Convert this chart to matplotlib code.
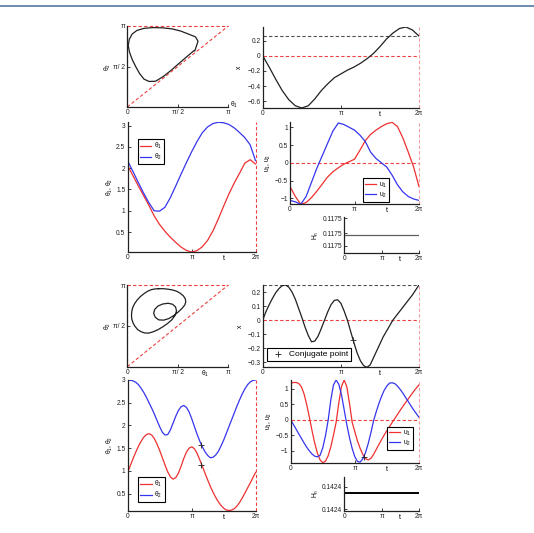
"""Two blocks of panels: phase portrait, x(t), theta(t), u(t) and the constant Hamiltonian."""

import matplotlib

matplotlib.use("Agg")

import matplotlib.pyplot as plt
import numpy as np
from matplotlib.lines import Line2D

PI = np.pi

# ---- upper block, read every 2*pi/24 ----
T_A = np.linspace(0, 2 * PI, 25)
THETA1_A = [2.07, 1.83, 1.59, 1.36, 1.13, 0.88, 0.68, 0.52, 0.38, 0.26, 0.15, 0.07, 0.03,
            0.06, 0.15, 0.30, 0.52, 0.80, 1.10, 1.39, 1.65, 1.88, 2.12, 2.20, 2.10]
THETA2_A = [2.18, 1.93, 1.67, 1.42, 1.19, 1.00, 0.99, 1.08, 1.30, 1.57, 1.85, 2.12, 2.38,
            2.62, 2.83, 2.97, 3.05, 3.08, 3.07, 3.03, 2.95, 2.84, 2.72, 2.55, 2.18]
X_A = [0.0, -0.15, -0.31, -0.46, -0.58, -0.66, -0.69, -0.66, -0.57, -0.46, -0.37, -0.29, -0.24,
       -0.19, -0.15, -0.10, -0.04, 0.03, 0.12, 0.22, 0.30, 0.36, 0.38, 0.34, 0.26]
U1_A = [-0.67, -0.95, -1.17, -1.12, -0.98, -0.80, -0.60, -0.40, -0.25, -0.14, -0.04, 0.03, 0.10,
        0.35, 0.62, 0.80, 0.92, 1.02, 1.10, 1.14, 1.02, 0.70, 0.30, -0.12, -0.67]
U2_A = [-1.06, -1.10, -1.17, -0.95, -0.55, -0.15, 0.20, 0.55, 0.90, 1.12, 1.08, 1.00, 0.92,
        0.78, 0.60, 0.30, 0.12, 0.00, -0.12, -0.35, -0.62, -0.82, -0.95, -1.02, -1.06]
H_A = 0.1175

# ---- lower block, read every 2*pi/48 ----
T_B = np.linspace(0, 2 * PI, 49)
THETA1_B = [0.97, 1.12, 1.27, 1.41, 1.54, 1.65, 1.74, 1.80, 1.82, 1.79, 1.71, 1.59, 1.45,
            1.29, 1.13, 0.98, 0.87, 0.82, 0.85, 0.95, 1.10, 1.27, 1.41, 1.50, 1.53, 1.49,
            1.39, 1.25, 1.10, 0.95, 0.80, 0.66, 0.53, 0.42, 0.32, 0.24, 0.18, 0.14, 0.13,
            0.14, 0.17, 0.23, 0.31, 0.41, 0.52, 0.63, 0.74, 0.86, 0.97]
THETA2_B = [3.00, 3.00, 2.98, 2.95, 2.90, 2.82, 2.73, 2.62, 2.50, 2.38, 2.25, 2.11, 1.97,
            1.85, 1.79, 1.80, 1.90, 2.05, 2.20, 2.33, 2.41, 2.44, 2.40, 2.30, 2.15, 1.98,
            1.81, 1.66, 1.53, 1.42, 1.34, 1.29, 1.30, 1.35, 1.43, 1.55, 1.68, 1.83, 1.98,
            2.13, 2.28, 2.43, 2.57, 2.70, 2.81, 2.90, 2.96, 2.99, 3.00]
X_B = [0.00, 0.06, 0.11, 0.155, 0.195, 0.225, 0.245, 0.25, 0.235, 0.20, 0.15, 0.085, 0.02,
       -0.05, -0.11, -0.155, -0.15, -0.115, -0.06, 0.00, 0.06, 0.11, 0.14, 0.145, 0.12, 0.065,
       0.00, -0.08, -0.16, -0.235, -0.29, -0.325, -0.337, -0.32, -0.27, -0.22, -0.17, -0.12,
       -0.08, -0.04, 0.00, 0.03, 0.06, 0.09, 0.12, 0.15, 0.18, 0.215, 0.25]
U1_B = [1.18, 1.21, 1.21, 1.18, 1.07, 0.84, 0.49, 0.08, -0.36, -0.76, -1.08, -1.30, -1.39,
        -1.34, -1.17, -0.88, -0.50, -0.08, 0.55, 1.08, 1.29, 1.07, 0.53, -0.08, -0.39, -0.69,
        -0.93, -1.13, -1.26, -1.30, -1.25, -1.12, -0.96, -0.80, -0.64, -0.49, -0.35, -0.22,
        -0.08, 0.05, 0.18, 0.31, 0.44, 0.56, 0.68, 0.80, 0.92, 1.03, 1.13]
U2_B = [0.00, -0.15, -0.30, -0.45, -0.60, -0.75, -0.89, -1.01, -1.11, -1.18, -1.20, -1.15,
        -0.91, -0.52, -0.02, 0.64, 1.13, 1.29, 1.15, 0.81, 0.33, -0.16, -0.58, -0.93, -1.20,
        -1.35, -1.37, -1.26, -1.06, -0.77, -0.42, -0.03, 0.26, 0.53, 0.76, 0.96, 1.10, 1.19,
        1.20, 1.17, 1.09, 0.98, 0.86, 0.72, 0.59, 0.45, 0.32, 0.20, 0.08]
H_B = 0.1424

# conjugate point (lower block)
CONJ_T = 3.62
CONJ_X = -0.14
CONJ_THETA = [1.14, 1.57]
CONJ_U_T = 3.60
CONJ_U = -1.20

FIG_W, FIG_H = 534, 533
RED = "#ee3030"
BLUE = "#3535ee"
CURVE = "#202020"
DASH_RED = "#ee4040"
PINK = "#f4a0a0"
GREY = "#505050"
FS = 4.8
DASH = (0, (3, 2))

plt.rcParams.update({
    "font.family": ["Liberation Sans", "DejaVu Sans"],
    "font.size": FS,
    "mathtext.default": "regular",
})


def rect(x0, y0, x1, y1):
    """Pixel box (top-left origin) -> figure fraction rect."""
    return [x0 / FIG_W, 1 - y1 / FIG_H, (x1 - x0) / FIG_W, (y1 - y0) / FIG_H]


def fmt(v):
    return f"{v:g}".replace("-", "\u2212")


def style(ax):
    for s in ("top", "right"):
        ax.spines[s].set_visible(False)
    for s in ("left", "bottom"):
        ax.spines[s].set_linewidth(0.9)
        ax.spines[s].set_color("#202020")
    ax.tick_params(direction="in", length=2.2, width=0.6, labelsize=FS, pad=1.5,
                   colors="#202020")


def set_yticks(ax, ticks):
    ax.set_yticks(ticks, labels=[fmt(v) for v in ticks])


def time_axis(ax):
    ax.set_xlim(0, 2 * PI)
    ax.set_xticks([0, PI, 2 * PI], labels=["0", "\u03c0", "2\u03c0"])
    ax.annotate("t", xy=(1.5 * PI, 0), xycoords=("data", "axes fraction"),
                xytext=(0, -2.2), textcoords="offset points", ha="center", va="top",
                fontsize=FS + 0.4)


def legend(ax, loc, anchor, fontsize=FS, handlelength=1.7):
    leg = ax.legend(loc=loc, bbox_to_anchor=anchor, fontsize=fontsize, frameon=True,
                    fancybox=False, edgecolor="black", framealpha=1, borderpad=0.3,
                    handlelength=handlelength, handletextpad=0.4, labelspacing=0.15,
                    borderaxespad=0)
    leg.get_frame().set_linewidth(0.8)
    return leg


def plot_phase(ax, th1, th2, label_inside):
    ax.plot(th1, th2, color=CURVE, lw=0.9)
    kw = dict(color=DASH_RED, lw=0.8, ls=DASH, clip_on=False)
    ax.plot([0, PI], [0, PI], **kw)
    ax.plot([0, PI], [PI, PI], **kw)
    ax.plot([0, 0], [0, PI], **kw)
    ax.set_xlim(0, PI)
    ax.set_ylim(0, PI)
    ax.set_xticks([0, PI / 2, PI], labels=["0", "\u03c0/ 2", "\u03c0"])
    ax.set_yticks([PI / 2, PI], labels=["\u03c0/ 2", "\u03c0"])
    ax.set_ylabel("\u03b8$_2$", labelpad=0.5)
    style(ax)
    if label_inside:
        ax.text(1.06, 0.03, "\u03b8$_1$", transform=ax.transAxes, ha="center", va="center")
    else:
        ax.annotate("\u03b8$_1$", xy=(0.77, 0), xycoords="axes fraction", xytext=(0, -1.5),
                    textcoords="offset points", ha="center", va="top")


def plot_x(ax, t, x, yticks):
    ax.axhline(x[-1], color=GREY, lw=0.8, ls=DASH)
    ax.axhline(0, color=DASH_RED, lw=0.8, ls=DASH)
    ax.axvline(2 * PI, color=PINK, lw=0.8, ls=DASH, clip_on=False)
    ax.plot(t, x, color=CURVE, lw=0.9)
    ax.set_ylim(min(x), max(x))
    time_axis(ax)
    set_yticks(ax, yticks)
    ax.set_ylabel("x", labelpad=3)
    style(ax)


def plot_theta(ax, t, th1, th2):
    ax.plot(t, th1, color=RED, lw=0.9, label="\u03b8$_1$")
    ax.plot(t, th2, color=BLUE, lw=0.9, label="\u03b8$_2$")
    ax.axvline(2 * PI, color=DASH_RED, lw=0.8, ls=DASH, clip_on=False)
    ax.set_ylim(min(min(th1), min(th2)), max(max(th1), max(th2)))
    time_axis(ax)
    set_yticks(ax, [0.5, 1, 1.5, 2, 2.5, 3])
    ax.set_ylabel("\u03b8$_1$, \u03b8$_2$", labelpad=1)
    style(ax)


def plot_u(ax, t, u1, u2):
    ax.axhline(0, color=DASH_RED, lw=0.8, ls=DASH)
    ax.axvline(2 * PI, color=PINK, lw=0.8, ls=DASH, clip_on=False)
    ax.plot(t, u1, color=RED, lw=0.9, label="u$_1$")
    ax.plot(t, u2, color=BLUE, lw=0.9, label="u$_2$")
    ax.set_ylim(min(min(u1), min(u2)), max(max(u1), max(u2)))
    time_axis(ax)
    set_yticks(ax, [-1, -0.5, 0, 0.5, 1])
    ax.set_ylabel("u$_1$, u$_2$", labelpad=1)
    style(ax)


def plot_h(ax, h, color, lw, lo, hi, tick_fracs):
    d = 1e-5
    ax.plot([0, 2 * PI], [h, h], color=color, lw=lw)
    ax.set_ylim(h - lo * d, h + hi * d)
    span = (lo + hi) * d
    ticks = [h - lo * d + f * span for f in tick_fracs]
    ax.set_yticks(ticks, labels=[f"{h:.4f}"] * len(ticks))
    time_axis(ax)
    ax.set_ylabel("H$_n$", labelpad=1)
    style(ax)


def main():
    fig = plt.figure(figsize=(FIG_W / 100, FIG_H / 100), dpi=100)
    fig.add_artist(Line2D([0, 1], [1 - 5.5 / FIG_H] * 2, transform=fig.transFigure,
                          color="#5577a0", lw=1.2))

    # upper block
    ax = fig.add_axes(rect(127.3, 26, 228.3, 107))
    plot_phase(ax, THETA1_A, THETA2_A, label_inside=True)

    ax = fig.add_axes(rect(262.7, 27, 419, 108))
    plot_x(ax, T_A, X_A, [-0.6, -0.4, -0.2, 0, 0.2])

    ax = fig.add_axes(rect(127.5, 122.3, 255.5, 252))
    plot_theta(ax, T_A, THETA1_A, THETA2_A)
    legend(ax, "upper left", (0.082, 0.871))

    ax = fig.add_axes(rect(290, 122.3, 419, 204.3))
    plot_u(ax, T_A, U1_A, U2_A)
    legend(ax, "lower right", (0.767, 0.03))

    ax = fig.add_axes(rect(344.3, 217.3, 419, 252.7))
    plot_h(ax, H_A, "#606060", 0.9, 1.0, 1.0, [0.2, 0.55, 0.97])

    # lower block
    ax = fig.add_axes(rect(127.3, 285, 228.3, 366.7))
    plot_phase(ax, THETA1_B, THETA2_B, label_inside=False)

    ax = fig.add_axes(rect(262.7, 285, 419, 367.3))
    plot_x(ax, T_B, X_B, [-0.3, -0.2, -0.1, 0, 0.1, 0.2])
    ax.plot([CONJ_T], [CONJ_X], "+", color=CURVE, ms=4, mew=0.6, label="Conjugate point")
    legend(ax, "lower left", (0.026, 0.077), fontsize=6, handlelength=2.0)

    ax = fig.add_axes(rect(127.7, 380, 255.7, 510.5))
    plot_theta(ax, T_B, THETA1_B, THETA2_B)
    ax.plot([CONJ_T] * 2, CONJ_THETA, "+", color=CURVE, ms=4, mew=0.6)
    legend(ax, "lower left", (0.084, 0.063))

    ax = fig.add_axes(rect(290.7, 380, 419, 462.7))
    plot_u(ax, T_B, U1_B, U2_B)
    ax.plot([CONJ_U_T], [CONJ_U], "+", color=CURVE, ms=4, mew=0.6)
    legend(ax, "lower right", (0.951, 0.154))

    ax = fig.add_axes(rect(344.3, 476.7, 419, 510.5))
    plot_h(ax, H_B, "black", 1.4, 1.06, 0.94, [0.04, 0.70])

    fig.savefig("out.png", dpi=100)
    plt.close(fig)


if __name__ == "__main__":
    main()
